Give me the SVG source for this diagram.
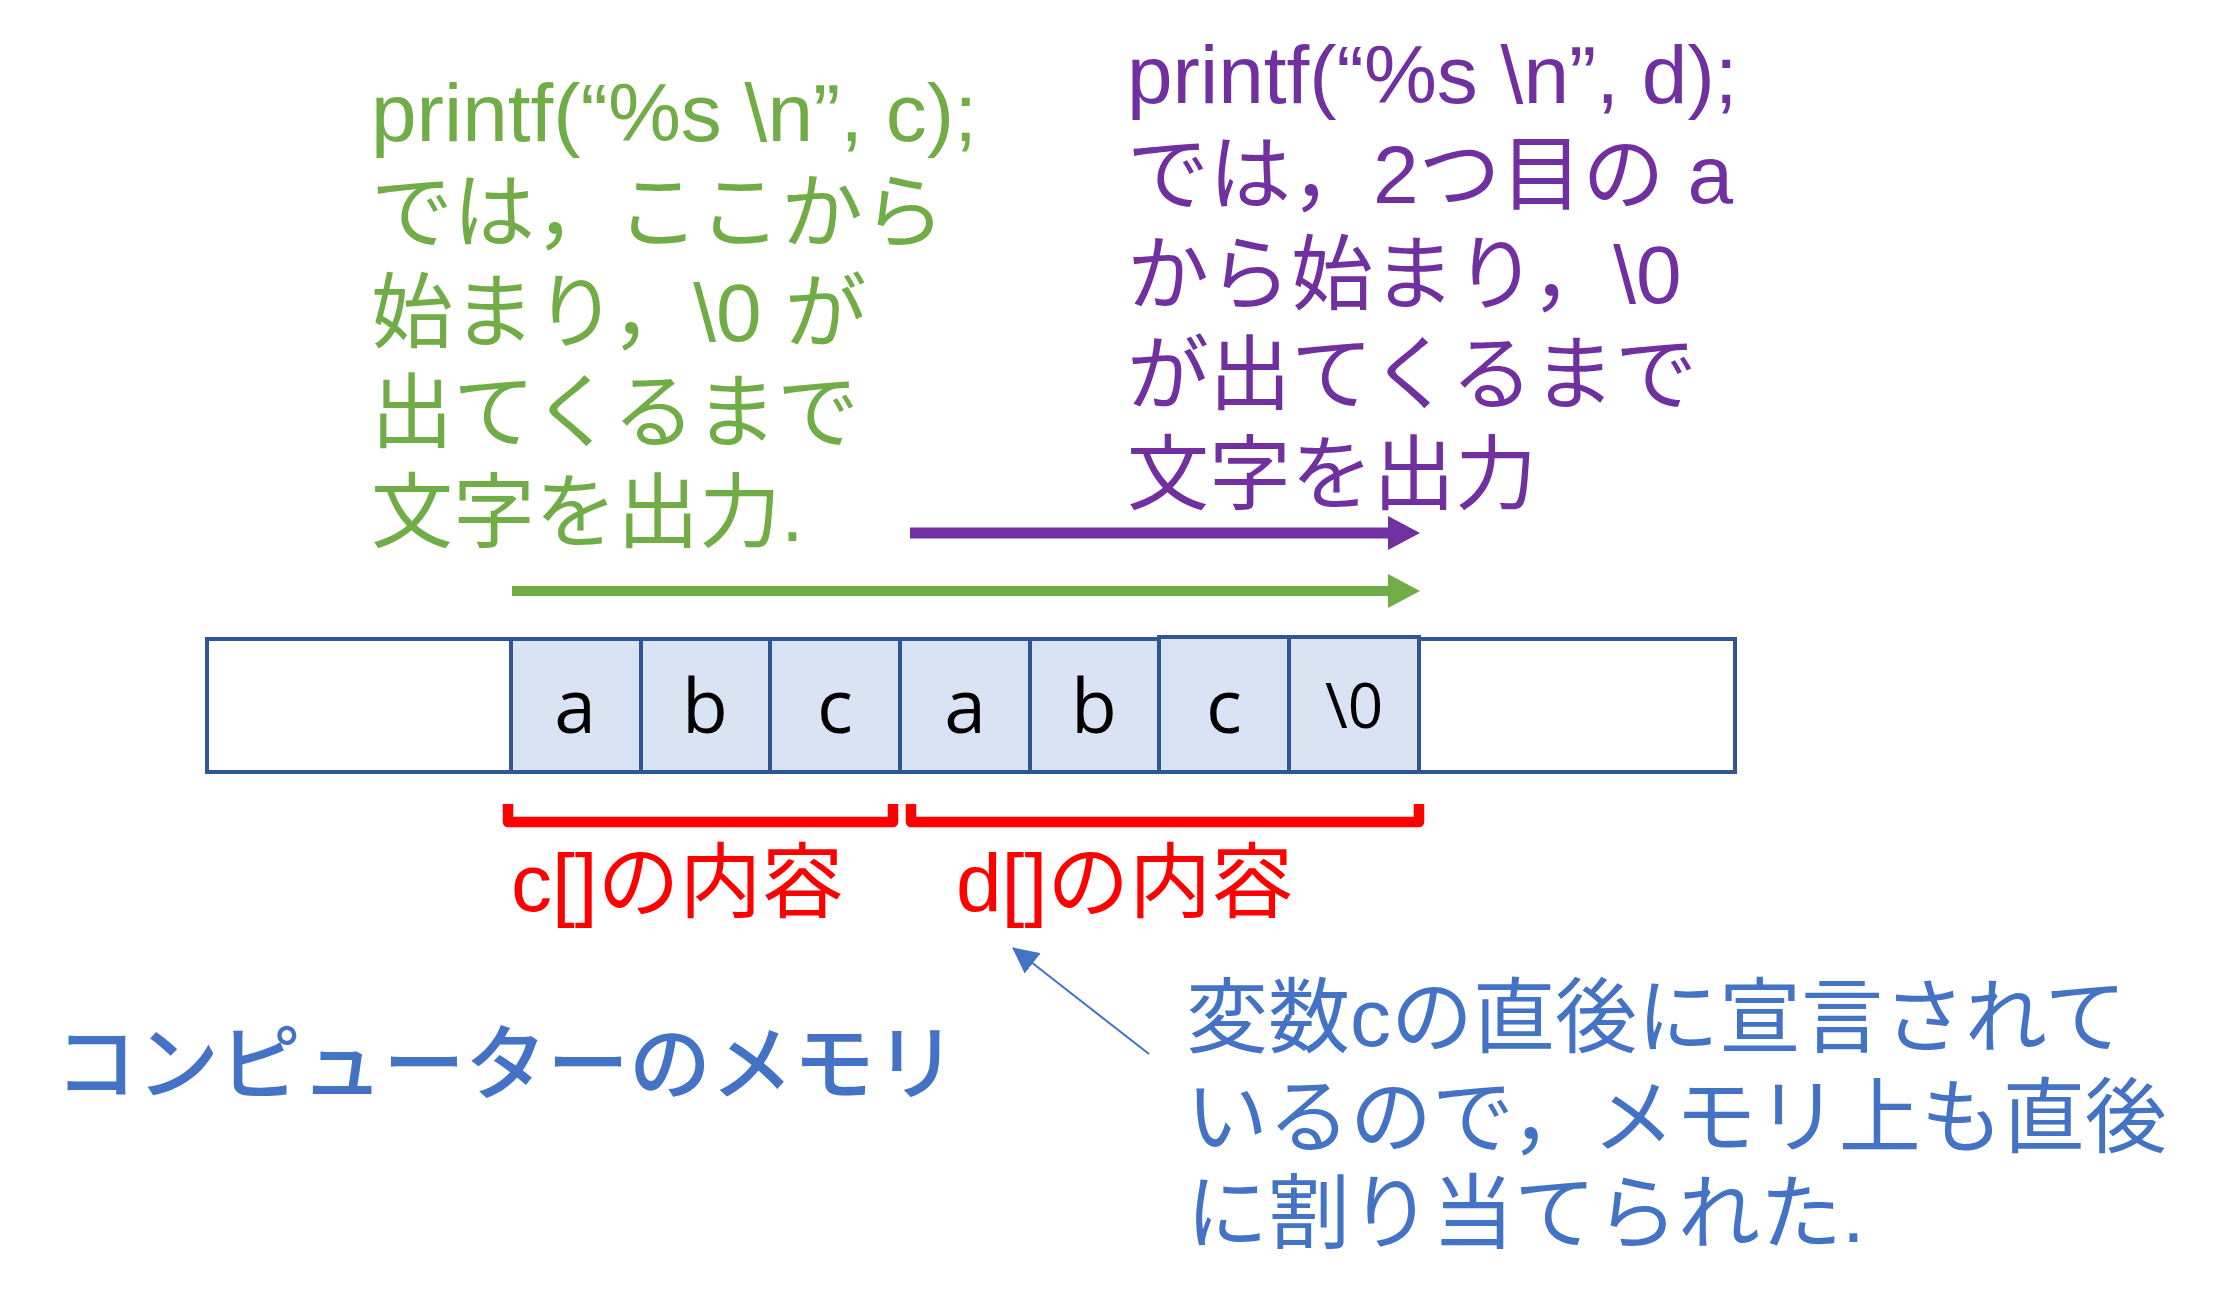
<svg xmlns="http://www.w3.org/2000/svg" width="2223" height="1306" viewBox="0 0 2223 1306">
<style>
.t{font-family:"Liberation Sans","Noto Sans CJK JP",sans-serif;font-size:82px}
.green{fill:#70AD47}
.purple{fill:#7030A0}
.red{fill:#FF0000}
.blue{fill:#4472C4}
.cell{fill:#DAE3F3;stroke:#2F5597;stroke-width:4}
.ch{font-family:"Open Sans","Noto Sans",sans-serif;font-size:75px;fill:#000;text-anchor:middle}
.brace{fill:none;stroke:#FF0000;stroke-width:10.5;stroke-linejoin:round}
</style>
<defs>
<marker id="hp" markerUnits="userSpaceOnUse" markerWidth="32" markerHeight="34" viewBox="0 0 32 34" refX="0" refY="17" orient="auto"><path d="M0,0 L32,17 L0,34 z" fill="#7030A0"/></marker>
<marker id="hg" markerUnits="userSpaceOnUse" markerWidth="32" markerHeight="34" viewBox="0 0 32 34" refX="0" refY="17" orient="auto"><path d="M0,0 L32,17 L0,34 z" fill="#70AD47"/></marker>
<marker id="hb" markerUnits="userSpaceOnUse" markerWidth="26" markerHeight="26" viewBox="0 0 26 26" refX="25" refY="13" orient="auto"><path d="M0,0 L26,13 L0,26 z" fill="#4472C4"/></marker>
</defs>
<rect width="2223" height="1306" fill="#FFFFFF"/>

<g id="green-note">
<text class="t green" x="371" y="141">printf(“%s \n”, c);</text>
<text class="t green" x="371" y="241">では，ここから</text>
<text class="t green" x="371" y="341">始まり，\0 が</text>
<text class="t green" x="371" y="441">出てくるまで</text>
<text class="t green" x="371" y="541">文字を出力.</text>
</g>

<g id="purple-note">
<text class="t purple" x="1127" y="103">printf(“%s \n”, d);</text>
<text class="t purple" x="1127" y="203">では，2つ目の a</text>
<text class="t purple" x="1127" y="303">から始まり，\0</text>
<text class="t purple" x="1127" y="403">が出てくるまで</text>
<text class="t purple" x="1127" y="503">文字を出力</text>
</g>

<g id="memory">
<rect x="207" y="639" width="1528" height="133" fill="#FFFFFF" stroke="#2F5597" stroke-width="4"/>
<rect class="cell" x="511" y="639" width="130" height="133"/>
<rect class="cell" x="641" y="639" width="129" height="133"/>
<rect class="cell" x="770" y="639" width="130" height="133"/>
<rect class="cell" x="900" y="639" width="130" height="133"/>
<rect class="cell" x="1030" y="639" width="129" height="133"/>
<rect class="cell" x="1159" y="637" width="130" height="135"/>
<rect class="cell" x="1289" y="637" width="130" height="135"/>
<text class="ch" x="575" y="733">a</text>
<text class="ch" x="705" y="733">b</text>
<text class="ch" x="835" y="733">c</text>
<text class="ch" x="965" y="733">a</text>
<text class="ch" x="1094" y="733">b</text>
<text class="ch" x="1224" y="733">c</text>
<text class="ch" x="1354" y="728" style="font-size:62px">\0</text>
</g>

<g id="c-range">
<path class="brace" d="M508,804 V822 H893 V804"/>
<text class="t red" x="511" y="911">c[]の内容</text>
</g>

<g id="d-range">
<path class="brace" d="M911,804 V822 H1419 V804"/>
<text class="t red" x="956" y="911">d[]の内容</text>
</g>

<g id="memory-label">
<text class="t blue" x="55" y="1093" style="font-weight:500">コンピューターのメモリ</text>
</g>

<g id="blue-note">
<text class="t blue" x="1186" y="1046">変数cの直後に宣言されて</text>
<text class="t blue" x="1186" y="1146">いるので，メモリ上も直後</text>
<text class="t blue" x="1186" y="1242">に割り当てられた.</text>
</g>

<g id="connectors">
<line x1="910" y1="533" x2="1388" y2="533" stroke="#7030A0" stroke-width="11" marker-end="url(#hp)"/>
<line x1="512" y1="591" x2="1388" y2="591" stroke="#70AD47" stroke-width="10" marker-end="url(#hg)"/>
<line x1="1149" y1="1054" x2="1013" y2="948" stroke="#4472C4" stroke-width="2" marker-end="url(#hb)"/>
</g>
</svg>
